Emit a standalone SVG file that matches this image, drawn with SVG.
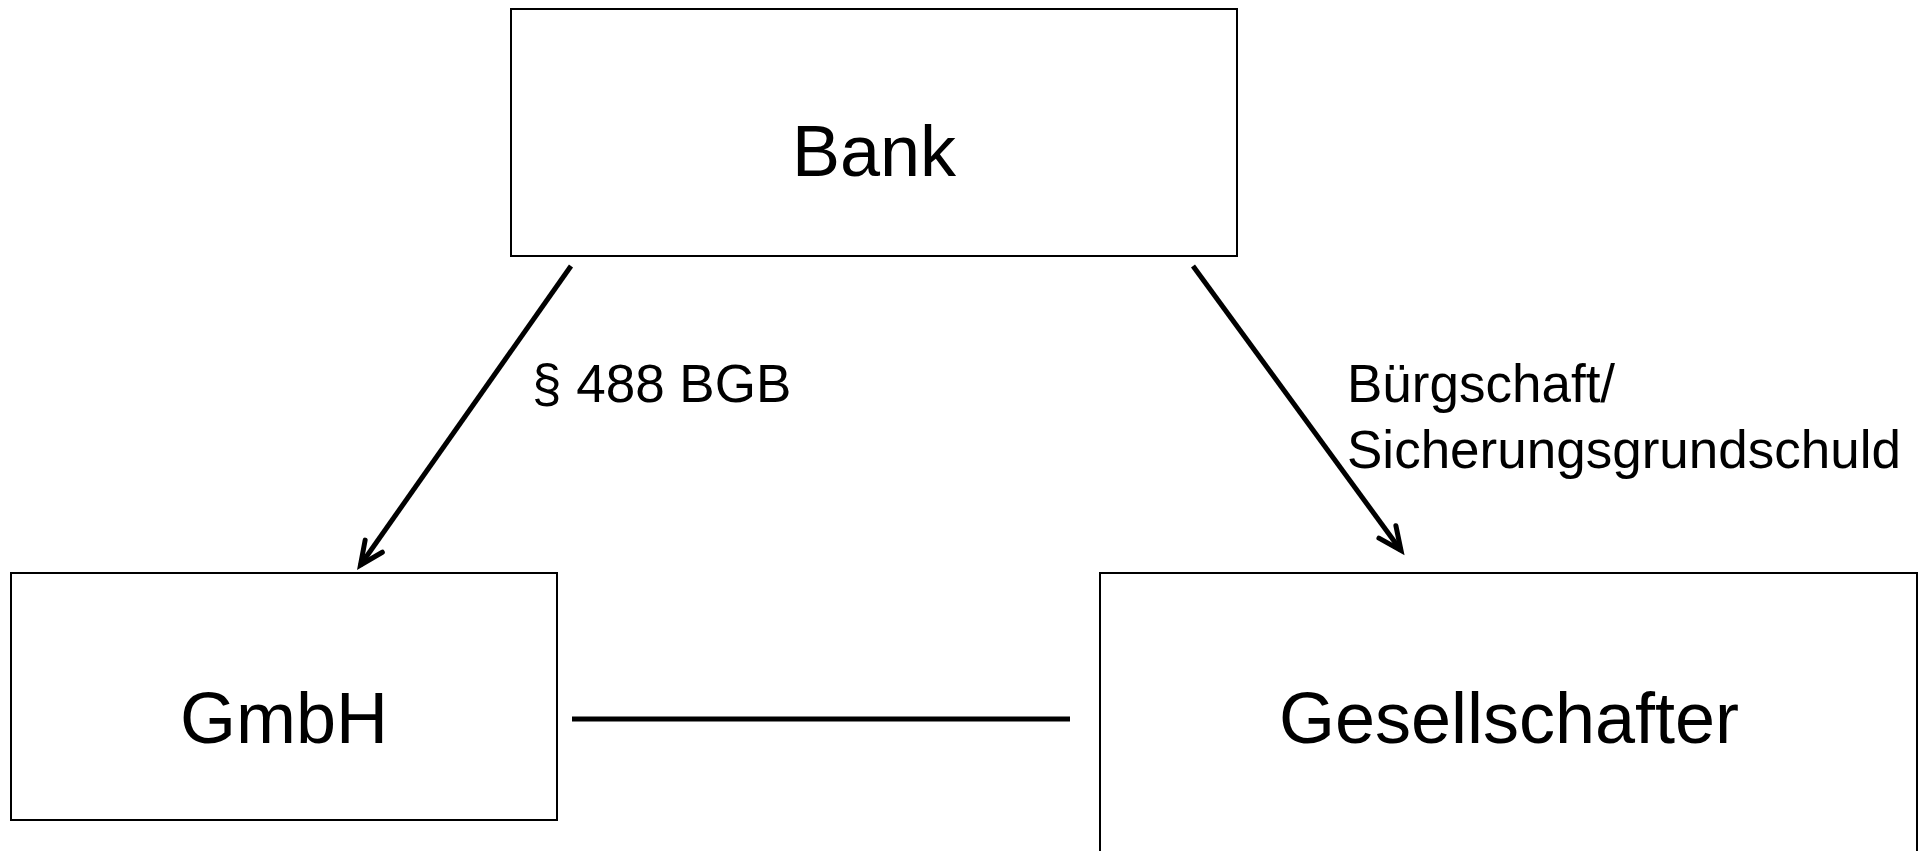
<svg xmlns="http://www.w3.org/2000/svg" width="1928" height="851" viewBox="0 0 1928 851">
<style>
.box{fill:#fff;stroke:#000;stroke-width:2}
.big{font-family:"Liberation Sans",Arial,sans-serif;font-size:72px;fill:#000;text-anchor:middle}
.lbl{font-family:"Liberation Sans",Arial,sans-serif;font-size:53px;fill:#000}
.conn{stroke:#000;stroke-width:5;fill:none}
</style>
<defs>
<marker id="arr" markerUnits="userSpaceOnUse" markerWidth="40" markerHeight="40" viewBox="-30 -20 40 40" refX="0" refY="0" orient="auto">
<path d="M-23,-10.5 L0,0 L-23,10.5" fill="none" stroke="#000" stroke-width="5" stroke-linejoin="miter" stroke-linecap="round"/>
</marker>
</defs>
<rect width="1928" height="851" fill="#fff"/>
<g id="bank">
<rect class="box" x="511" y="9" width="726" height="247"/>
<text class="big" x="874" y="176">Bank</text>
</g>
<g id="gmbh">
<rect class="box" x="11" y="573" width="546" height="247"/>
<text class="big" x="284" y="743">GmbH</text>
</g>
<g id="gesellschafter">
<rect class="box" x="1100" y="573" width="817" height="290"/>
<text class="big" x="1509" y="743">Gesellschafter</text>
</g>
<g id="connectors">
<line class="conn" x1="571" y1="266" x2="360.5" y2="565" marker-end="url(#arr)"/>
<line class="conn" x1="1193" y1="266" x2="1401" y2="550.5" marker-end="url(#arr)"/>
<line class="conn" x1="572" y1="719" x2="1070" y2="719"/>
<text class="lbl" x="532" y="402">§ 488 BGB</text>
<text class="lbl" x="1347" y="402">Bürgschaft/</text>
<text class="lbl" x="1347" y="468">Sicherungsgrundschuld</text>
</g>
</svg>
